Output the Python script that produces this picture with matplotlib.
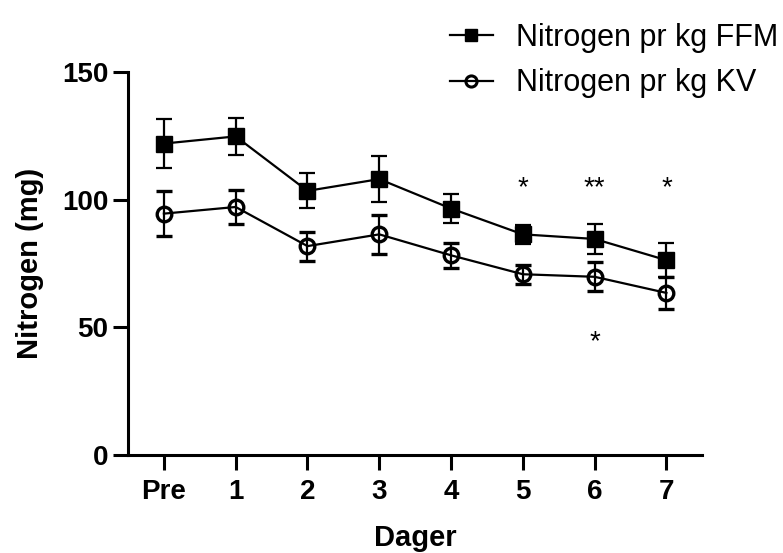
import matplotlib
matplotlib.use("Agg")
import matplotlib.pyplot as plt
from matplotlib.lines import Line2D

plt.rcParams['font.family'] = ['Liberation Sans', 'DejaVu Sans']

days = ['Pre', '1', '2', '3', '4', '5', '6', '7']
ffm = [121.9, 124.7, 103.4, 108.0, 96.5, 86.4, 84.6, 76.3]
ffm_err = [9.6, 7.3, 6.8, 9.0, 5.5, 3.6, 5.9, 6.6]
kv = [94.5, 97.1, 81.8, 86.4, 78.2, 70.8, 69.8, 63.5]
kv_err = [8.8, 6.7, 5.7, 7.7, 4.9, 3.8, 5.7, 6.1]
y_ticks = [0, 50, 100, 150]

star_x = [5, 6, 7, 6]
star_y = [101.6, 101.6, 101.6, 41.3]
star_text = ['*', '**', '*', '*']

fig = plt.figure(figsize=(7.83, 5.53), dpi=100)
ax = fig.add_axes([128/783, 1-455.3/553, (702.3-128)/783, (455.3-71.7)/553])

x = list(range(len(days)))
ax.errorbar(x, ffm, yerr=ffm_err, color='black', lw=1.6, marker='s', ms=11.3,
            mfc='black', mec='black', capsize=6, capthick=1.6, elinewidth=1.6,
            label='Nitrogen pr kg FFM')
ax.errorbar(x, kv, yerr=kv_err, color='black', lw=1.6, marker='o', ms=10.5,
            mfc='none', mec='black', mew=2.4, capsize=6, capthick=1.6, elinewidth=1.6,
            label='Nitrogen pr kg KV')

for sx, sy, st in zip(star_x, star_y, star_text):
    ax.text(sx, sy, st, ha='center', va='baseline', fontsize=20)

ax.set_xlim(-0.5, 7.5)
ax.set_ylim(0, 150)
ax.set_xticks(x)
ax.set_xticklabels(days)
ax.set_yticks(y_ticks)
for s in ['top', 'right']:
    ax.spines[s].set_visible(False)
for s in ['left', 'bottom']:
    ax.spines[s].set_linewidth(2.2)
ax.tick_params(axis='both', length=11, width=2.2, labelsize=20, pad=3)
ax.tick_params(axis='x', pad=6)
for lab in ax.get_xticklabels() + ax.get_yticklabels():
    lab.set_fontweight('bold')
ax.set_xlabel('Dager', fontsize=21, fontweight='bold', labelpad=14)
ax.set_ylabel('Nitrogen (mg)', fontsize=21, fontweight='bold', labelpad=13)

h1 = Line2D([], [], color='black', lw=1.6, marker='s', ms=8.5, mfc='black', mec='black')
h2 = Line2D([], [], color='black', lw=1.6, marker='o', ms=8, mfc='none', mec='black', mew=2.2)
fig.legend([h1, h2], ['Nitrogen pr kg FFM', 'Nitrogen pr kg KV'], loc='upper left',
           bbox_to_anchor=(450/783, 1-23/553), frameon=False, fontsize=22,
           handlelength=1.4, handletextpad=0.75, labelspacing=0.5, borderpad=0,
           borderaxespad=0)

fig.savefig('out.png', dpi=100)
